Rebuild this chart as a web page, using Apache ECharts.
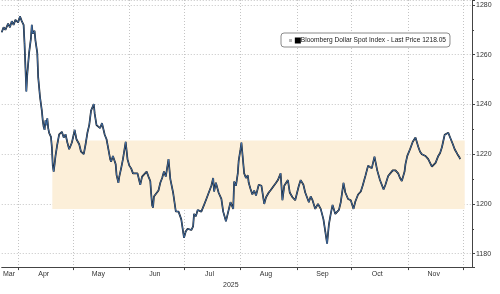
<!DOCTYPE html>
<html>
<head>
<meta charset="utf-8">
<script src="https://cdn.jsdelivr.net/npm/echarts@6/dist/echarts.min.js"></script>
<style>html,body{margin:0;padding:0;background:#fff}#c{width:500px;height:294px}</style>
</head>
<body>
<div id="c"></div>
<script>
// ---- data ----
const seriesName = 'Bloomberg Dollar Spot Index - Last Price';
const lastPrice = 1218.05;
const dates = [
'2025-03-23 00:00','2025-03-24 00:00','2025-03-25 00:00','2025-03-26 12:00','2025-03-27 12:00','2025-03-28 12:00','2025-03-29 12:00','2025-03-30 12:00',
'2025-04-01 00:00','2025-04-02 00:00','2025-04-03 00:00','2025-04-04 00:00','2025-04-04 12:00','2025-04-05 00:00','2025-04-05 12:00','2025-04-06 00:00',
'2025-04-07 00:00','2025-04-08 00:00','2025-04-08 12:00','2025-04-09 00:00','2025-04-10 00:00','2025-04-10 12:00','2025-04-11 12:00','2025-04-12 00:00',
'2025-04-13 00:00','2025-04-14 00:00','2025-04-14 12:00','2025-04-15 00:00','2025-04-15 12:00','2025-04-16 00:00','2025-04-16 12:00','2025-04-17 00:00',
'2025-04-17 12:00','2025-04-18 00:00','2025-04-19 00:00','2025-04-19 12:00','2025-04-20 00:00','2025-04-20 12:00','2025-04-21 00:00','2025-04-21 12:00',
'2025-04-22 12:00','2025-04-23 12:00','2025-04-25 00:00','2025-04-26 00:00','2025-04-27 00:00','2025-04-28 00:00','2025-04-29 00:00','2025-04-30 12:00',
'2025-05-01 12:00','2025-05-02 00:00','2025-05-03 00:00','2025-05-04 12:00','2025-05-05 12:00','2025-05-07 00:00','2025-05-08 00:00','2025-05-09 00:00',
'2025-05-10 00:00','2025-05-11 00:00','2025-05-12 12:00','2025-05-13 00:00','2025-05-14 00:00','2025-05-15 00:00','2025-05-16 00:00','2025-05-17 00:00',
'2025-05-18 12:00','2025-05-19 12:00','2025-05-20 12:00','2025-05-21 12:00','2025-05-22 00:00','2025-05-23 00:00','2025-05-24 12:00','2025-05-25 00:00',
'2025-05-26 00:00','2025-05-26 12:00','2025-05-27 12:00','2025-05-28 12:00','2025-05-30 00:00','2025-05-31 00:00','2025-06-01 00:00','2025-06-02 00:00',
'2025-06-03 00:00','2025-06-04 00:00','2025-06-05 12:00','2025-06-06 12:00','2025-06-07 00:00','2025-06-08 00:00','2025-06-09 00:00','2025-06-10 12:00',
'2025-06-11 12:00','2025-06-12 12:00','2025-06-13 00:00','2025-06-13 12:00','2025-06-14 00:00','2025-06-14 12:00','2025-06-15 12:00','2025-06-17 00:00',
'2025-06-18 00:00','2025-06-19 00:00','2025-06-20 00:00','2025-06-21 00:00','2025-06-22 12:00','2025-06-23 12:00','2025-06-25 00:00','2025-06-26 12:00',
'2025-06-28 00:00','2025-06-29 12:00','2025-07-01 00:00','2025-07-02 00:00','2025-07-03 00:00','2025-07-05 00:00','2025-07-06 00:00','2025-07-06 12:00',
'2025-07-07 12:00','2025-07-08 12:00','2025-07-10 12:00','2025-07-12 00:00','2025-07-13 00:00','2025-07-14 00:00','2025-07-16 00:00','2025-07-17 00:00',
'2025-07-17 12:00','2025-07-18 12:00','2025-07-20 00:00','2025-07-21 12:00','2025-07-22 12:00','2025-07-24 00:00','2025-07-25 00:00','2025-07-26 12:00',
'2025-07-28 00:00','2025-07-28 12:00','2025-07-29 12:00','2025-07-30 12:00','2025-07-31 00:00','2025-08-01 00:00','2025-08-01 12:00','2025-08-03 00:00',
'2025-08-04 00:00','2025-08-05 00:00','2025-08-05 12:00','2025-08-06 12:00','2025-08-07 12:00','2025-08-08 12:00','2025-08-09 12:00','2025-08-11 00:00',
'2025-08-12 12:00','2025-08-14 00:00','2025-08-15 00:00','2025-08-16 12:00','2025-08-17 12:00','2025-08-18 12:00','2025-08-20 12:00','2025-08-21 12:00',
'2025-08-23 00:00','2025-08-24 00:00','2025-08-25 00:00','2025-08-27 00:00','2025-08-28 00:00','2025-08-29 12:00','2025-08-31 00:00','2025-09-02 00:00',
'2025-09-03 00:00','2025-09-04 12:00','2025-09-05 12:00','2025-09-07 12:00','2025-09-08 12:00','2025-09-09 12:00','2025-09-11 00:00','2025-09-12 12:00',
'2025-09-14 00:00','2025-09-15 12:00','2025-09-16 12:00','2025-09-17 12:00','2025-09-18 12:00','2025-09-19 12:00','2025-09-20 12:00','2025-09-22 00:00',
'2025-09-24 00:00','2025-09-25 00:00','2025-09-26 12:00','2025-09-27 12:00','2025-09-29 00:00','2025-09-30 12:00','2025-10-01 12:00','2025-10-02 00:00',
'2025-10-03 00:00','2025-10-04 00:00','2025-10-04 12:00','2025-10-06 00:00','2025-10-07 00:00','2025-10-08 12:00','2025-10-10 00:00','2025-10-12 00:00',
'2025-10-13 12:00','2025-10-15 00:00','2025-10-16 12:00','2025-10-18 12:00','2025-10-19 12:00','2025-10-21 00:00','2025-10-22 00:00','2025-10-23 12:00',
'2025-10-25 00:00','2025-10-26 12:00','2025-10-27 12:00','2025-10-28 12:00','2025-10-30 00:00','2025-10-30 12:00','2025-10-31 12:00','2025-11-01 00:00',
'2025-11-02 00:00','2025-11-02 12:00','2025-11-03 12:00','2025-11-05 00:00','2025-11-06 12:00','2025-11-07 12:00','2025-11-08 12:00','2025-11-10 12:00',
'2025-11-12 00:00','2025-11-13 00:00','2025-11-14 00:00','2025-11-16 00:00','2025-11-17 12:00','2025-11-18 12:00','2025-11-19 12:00','2025-11-21 00:00',
'2025-11-23 00:00','2025-11-24 00:00','2025-11-25 12:00','2025-11-26 12:00','2025-11-28 00:00','2025-11-29 00:00','2025-11-29 12:00'
];
const values = [
1269,1271,1270,1272.5,1271,1273.5,1272,1274,
1273,1275.4,1273.5,1272,1264.6,1255,1245.2,1252,
1260.7,1266.5,1272,1268.5,1269.6,1265.7,1260.7,1251,
1243,1237.5,1233.6,1231,1229.8,1233.6,1231.7,1234.4,
1230.5,1228.6,1227,1222.8,1215.4,1213,1216,1219.3,
1224,1228,1229,1226.7,1228,1224.7,1222,1224.7,
1228,1229.8,1226,1224,1221,1220,1224,1228.6,
1231.7,1237.5,1240.2,1236.3,1231.7,1232.5,1230.5,1232.5,
1227.8,1226,1222,1218,1217,1219.3,1216,1211.6,
1208.5,1211,1214.3,1218,1225,1218,1215.4,1214.3,
1212.3,1213,1212.3,1209.2,1207.7,1211,1211.6,1213,
1211,1209.2,1204,1199.5,1198.5,1203,1202.7,1205.4,
1208.5,1210.4,1213,1211,1218,1210,1204.6,1197,
1196.9,1193.8,1186.4,1189,1190,1189.5,1191,1196,
1195,1197.6,1196.9,1199.6,1201.5,1200.7,1207.3,1210.4,
1205,1208.5,1204.5,1202,1196.9,1193,1192.2,1200.7,
1198,1209,1207.3,1212.3,1217.4,1222,1224.7,1212.3,
1210.4,1211.5,1208.5,1206,1203.8,1205.4,1203.4,1207.7,
1207.3,1200,1202.7,1204.6,1205.5,1206.5,1208.5,1209.6,
1212.3,1201.5,1207.3,1209.6,1204.6,1202.7,1201.5,1207.3,
1209.6,1207.7,1204.6,1200.7,1203,1201.5,1198,1200,
1198,1193.8,1189,1184,1191.8,1196,1199.6,1196,
1197.6,1200.7,1208.5,1204.6,1202,1201.5,1200.7,1198,
1201,1201.5,1203.8,1205,1207.3,1211.2,1215.4,1214.3,
1219,1213.5,1209.6,1205.8,1207.7,1211.2,1212,1213.5,
1213.5,1212.3,1210.4,1209.2,1213,1216,1219.3,1220,
1222,1222.8,1225,1226.7,1223,1221,1220,1219.3,
1218,1216.5,1215,1216.5,1219.3,1220.5,1222.8,1227.8,
1228.6,1226.7,1224,1222,1220,1218.9,1218.05
];
const monthLabels = ['Jan','Feb','Mar','Apr','May','Jun','Jul','Aug','Sep','Oct','Nov','Dec'];
const yearLabel = '2025';
const axisStart = '2025-03-23';
const axisEnd = '2025-12-06';
const bandX = ['2025-04-19 18:00', '2025-12-02 00:00'];
const bandY = [1198, 1225.5];
const yMin = 1174.6, yMax = 1282;

// daily categories for the decorative month axis
const dayCats = [];
{
  const d = new Date(2025, 2, 23);
  const end = new Date(2025, 11, 6);
  while (d <= end) {
    const m = String(d.getMonth() + 1).padStart(2, '0');
    const dd = String(d.getDate()).padStart(2, '0');
    dayCats.push('2025-' + m + '-' + dd);
    d.setDate(d.getDate() + 1);
  }
}
const lineData = dates.map((t, i) => [t, values[i]]);
const FONT = 'Liberation Sans';

const chart = echarts.init(document.getElementById('c'), null, {renderer: 'canvas'});
chart.setOption({
  animation: false,
  backgroundColor: '#fff',
  textStyle: {fontFamily: FONT},
  grid: {left: 0, right: 28, top: 0, bottom: 17, containLabel: false},
  legend: {
    data: [seriesName],
    left: 281, top: 33,
    icon: 'none', itemWidth: 0, itemHeight: 0,
    padding: [4, 4, 3, 3],
    backgroundColor: '#fff',
    borderColor: '#8a8a8a', borderWidth: 1, borderRadius: 3,
    formatter: (n) => '{g|}{s|} {b|}{t|' + n + ' ' + lastPrice.toFixed(2) + '}',
    textStyle: {
      fontFamily: FONT, fontSize: 6.6, color: '#222',
      rich: {
        g: {width: 3, height: 3, backgroundColor: '#bbb'},
        s: {width: 1},
        b: {width: 6, height: 6, backgroundColor: '#000'},
        t: {fontSize: 6.6, color: '#222', fontFamily: FONT}
      }
    }
  },
  xAxis: [
    {
      type: 'category', data: dayCats, boundaryGap: false,
      axisLine: {show: true, lineStyle: {color: '#444', width: 1}},
      axisTick: {show: true, length: 3, lineStyle: {color: '#444'},
        interval: (i, v) => v.slice(8) === '01'},
      splitLine: {show: true, interval: (i, v) => v.slice(8) === '01',
        lineStyle: {color: '#c4c4c4', type: [1, 2], width: 1}},
      axisLabel: {
        interval: (i, v) => v.slice(8) === '15' || v === '2025-03-27',
        formatter: (v) => monthLabels[parseInt(v.slice(5, 7), 10) - 1],
        fontSize: 7, color: '#333', margin: 3, fontFamily: FONT
      },
      name: yearLabel, nameLocation: 'middle', nameGap: 12,
      nameTextStyle: {fontSize: 7, color: '#333', fontFamily: FONT, padding: [0, 12, 0, 0]}
    },
    {
      type: 'time', min: axisStart, max: axisEnd, show: false
    }
  ],
  yAxis: {
    type: 'value', position: 'right', min: yMin, max: yMax, splitNumber: 5,
    axisLine: {show: true, lineStyle: {color: '#444', width: 1}},
    axisTick: {show: true, length: 3, lineStyle: {color: '#444'}},
    minorTick: {show: true, splitNumber: 2, length: 2, lineStyle: {color: '#444'}},
    splitLine: {show: true, lineStyle: {color: '#c4c4c4', type: [1, 2], width: 1}},
    axisLabel: {fontSize: 7, color: '#333', margin: 4, fontFamily: FONT,
      showMinLabel: false, showMaxLabel: false,
      formatter: (v) => String(Math.round(v))},
  },
  series: [
    {
      name: seriesName, type: 'line', xAxisIndex: 1, data: lineData,
      showSymbol: false, symbol: 'none',
      lineStyle: {color: '#111', width: 1.7},
      itemStyle: {color: '#000'},
      z: 3,
      markArea: {
        silent: true,
        itemStyle: {color: '#fcefd9'},
        data: [[{xAxis: bandX[0], yAxis: bandY[1]}, {xAxis: bandX[1], yAxis: bandY[0]}]]
      },
      markLine: {
        silent: true, symbol: 'none',
        lineStyle: {opacity: 0, width: 0},
        label: {show: true, position: 'end', distance: 2, formatter: lastPrice.toFixed(2),
          backgroundColor: '#000', color: '#fff', fontSize: 7, padding: [2, 2, 1, 2],
          borderRadius: 2, fontFamily: FONT},
        data: [{yAxis: lastPrice}]
      }
    },
    {
      name: seriesName + ' ', type: 'line', xAxisIndex: 1, data: lineData,
      showSymbol: false, symbol: 'none',
      lineStyle: {color: '#4a7fc0', width: 0.8},
      z: 4
    }
  ]
});
</script>
</body>
</html>
